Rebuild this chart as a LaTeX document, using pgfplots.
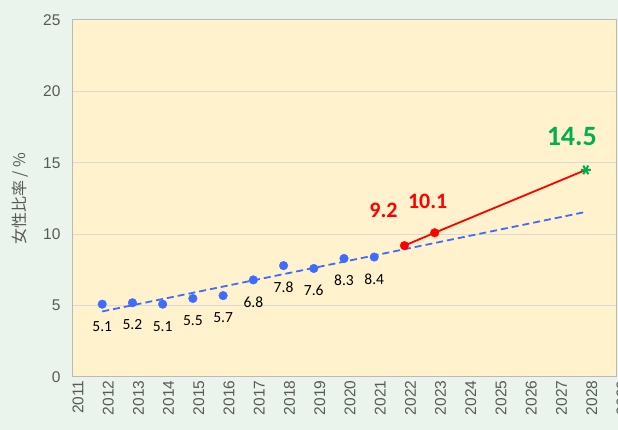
\documentclass[border=0pt]{standalone}
\usepackage{pgfplots}
\pgfplotsset{compat=1.18}
\usepackage{fontspec}
\setmainfont{Carlito}
\newfontfamily\tickfont{Liberation Sans}
\newfontfamily\cjk{Noto Sans CJK JP}
\definecolor{bgout}{HTML}{EAF4EC}
\definecolor{plotbg}{HTML}{FFF2CC}
\definecolor{gridc}{HTML}{D9D9D9}
\definecolor{txtgray}{HTML}{595959}
\definecolor{blu}{HTML}{3F6BFF}
\definecolor{grn}{HTML}{00B050}
\definecolor{rd}{HTML}{FF0000}
\begin{document}
\begin{tikzpicture}[x=1pt,y=1pt]
\fill[bgout] (0,0) rectangle (618,430);
\begin{axis}[
  at={(72pt,53pt)}, anchor=south west, scale only axis,
  width=544pt, height=357pt,
  xmin=2011, xmax=2029, ymin=0, ymax=25,
  xtick={2011,2012,...,2029}, ytick={0,5,...,25},
  /pgf/number format/assume math mode=true,
  /pgf/number format/1000 sep={},
  xticklabel style={rotate=90, anchor=east, yshift=-6pt, font=\tickfont\fontsize{15.5}{16}\selectfont, text=txtgray},
  yticklabel style={xshift=-8pt, font=\tickfont\fontsize{15.5}{16}\selectfont, text=txtgray},
  axis background/.style={fill=plotbg},
  ymajorgrids, grid style={gridc, line width=1pt},
  axis line style={gray!55, line width=1pt},
  major tick length=0pt,
  ylabel={\cjk 女性比率 / \%},
  ylabel style={at={(axis description cs:-0.095,0.5)}, anchor=center, font=\fontsize{16}{16}\selectfont, text=txtgray},
]
% trend line
\addplot[blu, line width=1.8pt, dash pattern=on 7pt off 4pt, no marks] coordinates {(2012,4.59) (2028,11.56)};
% observed
\addplot[only marks, mark=*, mark size=4.3pt, color=blu,
  point meta=explicit symbolic, nodes near coords,
  every node near coord/.append style={anchor=center, yshift=-22pt, font=\fontsize{15.5}{15}\selectfont, text=black}]
  coordinates {
  (2012,5.1) [5.1]
  (2013,5.2) [5.2]
  (2014,5.1) [5.1]
  (2015,5.5) [5.5]
  (2016,5.7) [5.7]
  (2017,6.8) [6.8]
  (2018,7.8) [7.8]
  (2019,7.6) [7.6]
  (2020,8.3) [8.3]
  (2021,8.4) [8.4]
};
% red path
\addplot[rd, line width=1.8pt, no marks] coordinates {(2022,9.2) (2023,10.1) (2028,14.5)};
\addplot[only marks, mark=*, mark size=4.3pt, color=rd] coordinates {(2022,9.2) (2023,10.1)};
\addplot[only marks, mark=asterisk, mark size=5pt, color=grn, line width=2pt, mark options={rotate=90}] coordinates {(2028,14.5)};
\node[text=rd, font=\bfseries\fontsize{22}{22}\selectfont] at (axis cs:2022,9.2) [xshift=-21pt, yshift=35pt] {9.2};
\node[text=rd, font=\bfseries\fontsize{22}{22}\selectfont] at (axis cs:2023,10.1) [xshift=-7pt, yshift=31pt] {10.1};
\node[text=grn, font=\bfseries\fontsize{28}{28}\selectfont] at (axis cs:2028,14.5) [xshift=-14pt, yshift=33pt] {14.5};
\end{axis}
\pgfresetboundingbox
\useasboundingbox (0,0) rectangle (618,430);
\end{tikzpicture}
\end{document}
